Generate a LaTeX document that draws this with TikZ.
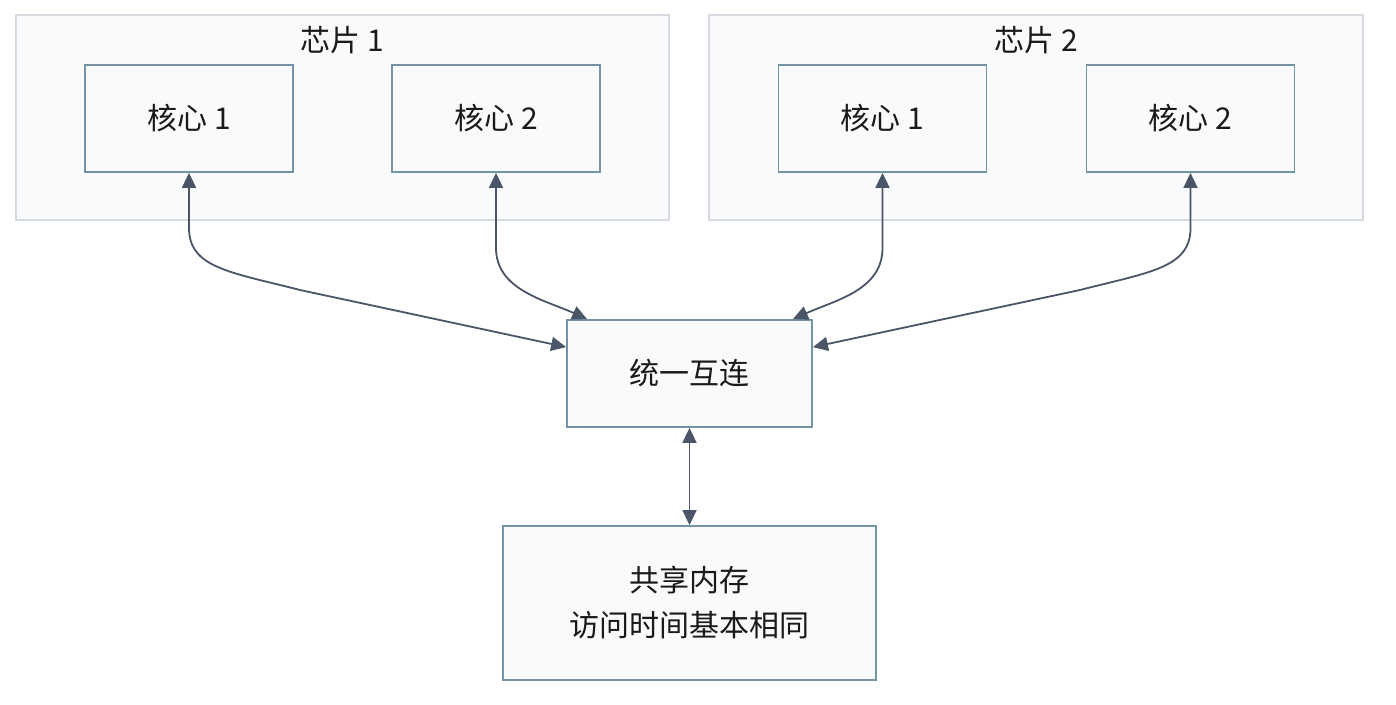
\documentclass[tikz,border=0pt]{standalone}
\usepackage{fontspec}
\setmainfont{Noto Sans CJK SC}
\usetikzlibrary{arrows.meta,calc}
\definecolor{boxfill}{HTML}{F8FAFC}
\definecolor{boxline}{HTML}{7394A5}
\definecolor{grpline}{HTML}{D5DBE1}
\definecolor{edgecol}{HTML}{4A5568}
\definecolor{txt}{HTML}{1A1A1A}
\tikzset{
  grp/.style={draw=grpline, fill=boxfill, line width=1.8pt, minimum width=#1, minimum height=205pt, inner sep=0pt},
  corebox/.style={draw=boxline, fill=boxfill, line width=1.8pt, minimum width=208pt, minimum height=107pt, inner sep=0pt, text=txt, font=\fontsize{30}{45}\selectfont},
  ttl/.style={text=txt, font=\fontsize{30}{45}\selectfont, inner sep=0pt},
  link/.style={draw=edgecol, line width=1.8pt, {Triangle[length=15pt,width=14pt]}-{Triangle[length=15pt,width=14pt]}}
}
\begin{document}
\begin{tikzpicture}[x=1pt,y=-1pt]
\useasboundingbox (0,0) rectangle (1396,704);
\fill[white] (0,0) rectangle (1396,704);
\node[grp=653pt] (g1) at (342.5,117.5) {};
\node[grp=654pt] (g2) at (1036,117.5) {};
\node[ttl] (t1) at (342,40) {芯片 1};
\node[ttl] (t2) at (1036,40) {芯片 2};
\node[corebox] (c11) at (189,118.5) {核心 1};
\node[corebox] (c12) at (496,118.5) {核心 2};
\node[corebox] (c21) at (882.5,118.5) {核心 1};
\node[corebox] (c22) at (1190.5,118.5) {核心 2};
\node[corebox, minimum width=245pt] (ic) at (689.5,373.5) {统一互连};
\node[corebox, minimum width=373pt, minimum height=154pt, align=center] (mem) at (689.5,603) {共享内存\\访问时间基本相同};
% edges
\draw[link] (c11.south) -- ++(0,55) .. controls +(0,40) and (230,272) .. (300,290) -- ([yshift=-28pt]ic.north west);
\draw[link] (c12.south) -- ++(0,75) .. controls +(0,42) and (545,300) .. ([xshift=21pt]ic.north west);
\draw[link] (c21.south) -- ++(0,75) .. controls +(0,42) and (836,300) .. ([xshift=-20pt]ic.north east);
\draw[link] (c22.south) -- ++(0,55) .. controls +(0,40) and (1150,272) .. (1080,290) -- ([yshift=-28pt]ic.north east);
\draw[link] (ic.south) -- (mem.north);
\end{tikzpicture}
\end{document}
